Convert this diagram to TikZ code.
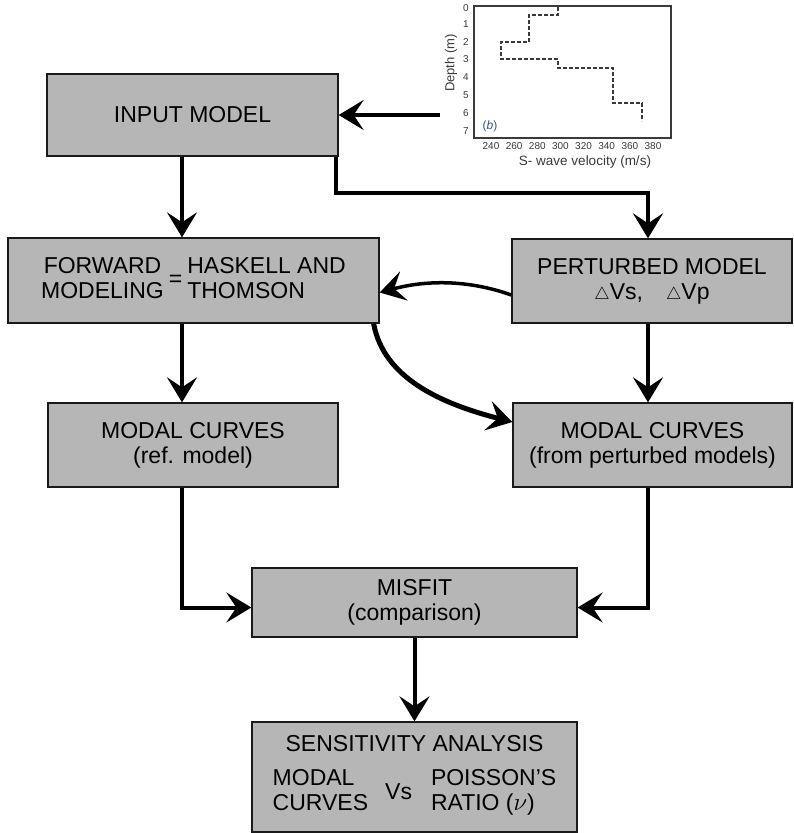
\documentclass[tikz,border=0pt]{standalone}
\usepackage{fontspec}
\setmainfont{Liberation Sans}
\usepackage{tikz}
\usetikzlibrary{arrows.meta}
\definecolor{boxfill}{HTML}{B6B6B6}
\definecolor{edge}{HTML}{1A1A1A}
\definecolor{plotink}{HTML}{3A3A3A}
\definecolor{panel}{HTML}{34558A}

\tikzset{
  blockbox/.style={draw=edge,line width=1.3pt,fill=boxfill,inner sep=0pt,align=center,
    font=\fontsize{23}{25}\selectfont},
  flow/.style={line width=4pt,-{Stealth[length=25pt,width=30pt,inset=10pt]}},
  ticklab/.style={font=\fontsize{10}{11}\selectfont,text=plotink,inner sep=0pt},
}

\begin{document}
\begin{tikzpicture}[x=1pt,y=-1pt]
  \useasboundingbox (0,0) rectangle (793,833);
  % boxes
  \node[blockbox,minimum width=291pt,minimum height=82pt] (input) at (192.5,115) {INPUT MODEL};
  \node[blockbox,minimum width=371pt,minimum height=85pt] (fwd) at (193.5,280.5)
    {\begin{tabular}{@{}c@{}}FORWARD\\MODELING\end{tabular}\hspace{5pt}=\hspace{5pt}\begin{tabular}{@{}l@{}}HASKELL AND\\THOMSON\end{tabular}};
  \node[blockbox,minimum width=280pt,minimum height=84pt] (pert) at (652,281)
    {PERTURBED MODEL\\$\scriptstyle\triangle$Vs,\quad$\scriptstyle\triangle$Vp};
  \node[blockbox,minimum width=290pt,minimum height=84pt] (modref) at (193,445)
    {MODAL CURVES\\(ref. model)};
  \node[blockbox,minimum width=279pt,minimum height=84pt] (modpert) at (652.5,445)
    {MODAL CURVES\\(from perturbed models)};
  \node[blockbox,minimum width=325pt,minimum height=69pt] (misfit) at (414.5,602.5)
    {MISFIT\\(comparison)};
  \node[blockbox,minimum width=325pt,minimum height=110pt] (sens) at (414.5,777)
    {SENSITIVITY ANALYSIS\\[15pt]\begin{tabular}{@{}l@{}}MODAL\\CURVES\end{tabular}\hspace{17pt}Vs\hspace{19pt}\begin{tabular}{@{}l@{}}POISSON'S\\RATIO ($\nu$)\end{tabular}};

  % velocity profile inset
  \draw[plotink,line width=1.4pt] (474,6) rectangle (671,138);
  \draw[plotink,line width=1.3pt,dash pattern=on 4pt off 2pt]
    (558,7) -- (558,15) -- (529,15) -- (529,42) -- (501,42) -- (501,59) -- (558,59)
    -- (558,68) -- (613,68) -- (613,103) -- (642,103) -- (642,121);
  \foreach \d/\yy in {0/8,1/24,2/42,3/59,4/77,5/95,6/113,7/131}
    \node[ticklab] at (466,\yy) {\d};
  \foreach \v in {240,260,...,380}
    \node[ticklab] at ({491+(\v-240)*1.157},146) {\v};
  \node[font=\fontsize{13}{14}\selectfont,text=plotink,rotate=90] at (451,63) {Depth (m)};
  \node[font=\fontsize{13.5}{14}\selectfont,text=plotink] at (585,162) {S- wave velocity (m/s)};
  \node[font=\fontsize{12}{13}\selectfont,text=panel] at (490,126) {(\textit{b})};
  \coordinate (plotin) at (440,115);

  % connectors
  \coordinate (lcol) at (182,0);
  \coordinate (rcol) at (648,0);
  \draw[flow] (plotin) -- (input.east);
  \draw[flow] (input.south -| lcol) -- (fwd.north -| lcol);
  \draw[flow] ([xshift=-3pt]input.south east) -- ++(0,36) -| (pert.north -| rcol);
  \draw[flow] (fwd.south -| lcol) -- (modref.north -| lcol);
  \draw[flow] (pert.south -| rcol) -- (modpert.north -| rcol);
  \draw[flow,line width=3.5pt] ([yshift=-14pt]pert.west) .. controls +(-45,-16) and +(45,-12) .. ([yshift=-12pt]fwd.east);
  \draw[flow,line width=5pt] ([xshift=-6pt]fwd.south east) .. controls +(10,55) and +(-70,-18) .. ([yshift=23pt]modpert.west);
  \draw[flow] (modref.south -| lcol) |- ([yshift=-5pt]misfit.west);
  \draw[flow] (modpert.south -| rcol) |- ([yshift=-5pt]misfit.east);
  \draw[flow] (misfit.south) -- (sens.north);
\end{tikzpicture}
\end{document}
